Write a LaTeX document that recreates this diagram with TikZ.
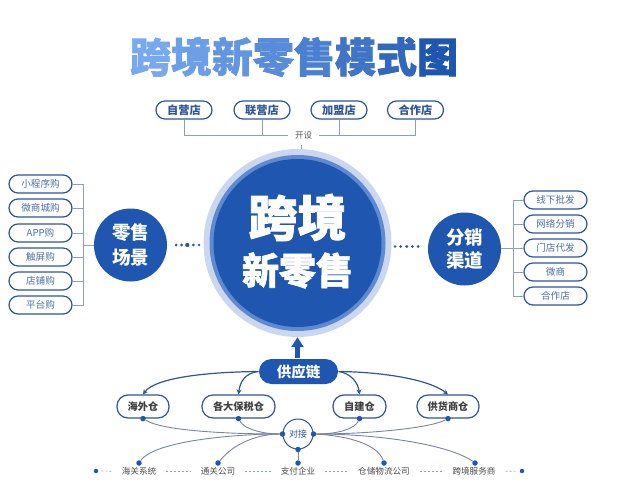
\documentclass[tikz,border=0pt]{standalone}
\usepackage{fontspec}
\setmainfont{Noto Sans CJK SC}
\newfontfamily\heavyfont[BoldFeatures={FakeBold=1.6}]{Noto Sans CJK SC}
\usetikzlibrary{arrows.meta}
\definecolor{mainblue}{HTML}{1F56B0}
\definecolor{ringmid}{HTML}{5F8AD0}
\definecolor{ringpale}{HTML}{CBD7EE}
\definecolor{edgeblue}{HTML}{2F5597}
\definecolor{linkgray}{HTML}{8D9DBD}
\definecolor{titlepale}{HTML}{78A9F0}
\newcommand{\fsz}[1]{\fontsize{#1}{#1}\selectfont}
\tikzset{
    pill/.style={draw=edgeblue, line width=1.2pt, fill=white, rounded corners=9pt, inner sep=0pt, minimum height=18pt},
    sidepill/.style={pill, minimum width=63pt, text=edgeblue!85!white, font=\fsz{9.6}},
    toppill/.style={pill, minimum width=56pt, text=edgeblue, font=\fsz{11.2}\bfseries},
    stockpill/.style={pill, rounded corners=11pt, minimum height=23pt, text=black!75, font=\fsz{10.2}\bfseries},
    bigdisc/.style={circle, fill=mainblue, text=white, inner sep=0pt, minimum size=73pt, align=center, font=\fsz{18.5}\bfseries},
    bracket/.style={draw=linkgray, line width=1pt},
    dotnode/.style={circle, fill=mainblue, inner sep=0pt, minimum size=5.5pt},
    curvelink/.style={draw=linkgray!85!black, line width=.9pt},
    archarrow/.style={draw=edgeblue, line width=1.2pt, -{Stealth[length=5pt,width=5pt]}},
    botlabel/.style={inner sep=0pt, text=black!70, font=\fsz{8.6}},
    botdash/.style={draw=linkgray, dash pattern=on 2pt off 2pt, line width=.7pt, shorten <=10pt, shorten >=10pt},
}
\begin{document}
\begin{tikzpicture}[x=1pt,y=-1pt]
    \useasboundingbox (0,0) rectangle (623,500);

    % Title
    \node (title) at (294,57) {\fsz{41}\heavyfont\bfseries
        \textcolor{titlepale}{跨}\textcolor{titlepale!88!mainblue}{境}\textcolor{titlepale!76!mainblue}{新}\textcolor{titlepale!64!mainblue}{零}\textcolor{titlepale!50!mainblue}{售}\textcolor{titlepale!36!mainblue}{模}\textcolor{titlepale!20!mainblue}{式}\textcolor{mainblue}{图}};

    % Central disc
    \coordinate (ticktop) at (301,145);
    \coordinate (tickend) at (301,150);
    \draw[bracket] (ticktop) -- (tickend);
    \node[circle, fill=ringpale, inner sep=0pt, minimum size=188pt] (center) at (297.5,243) {};
    \node[circle, fill=ringmid, inner sep=0pt, minimum size=176pt] (centerring) at (297.5,243) {};
    \node[circle, fill=mainblue, inner sep=0pt, minimum size=168pt] (centerdisc) at (297.5,243) {};
    \node[text=white, font=\fsz{49}\heavyfont\bfseries] (kj) at (297.5,217.5) {跨境};
    \node[text=white, font=\fsz{37}\heavyfont\bfseries] (xls) at (297.5,270.5) {新零售};

    % Top stores
    \node[toppill] (ziying) at (184,110) {自营店};
    \node[toppill] (lianying) at (262,110) {联营店};
    \node[toppill] (jiameng) at (339,110) {加盟店};
    \node[toppill] (hezuo) at (415.5,110) {合作店};
    \node[fill=white, inner sep=0pt, minimum width=31pt, text=black!65, font=\fsz{8.5}] (kaishe) at (303.5,135) {开设};
    \draw[bracket] (ziying.south) |- (kaishe.west);
    \draw[bracket] (lianying.south) |- (kaishe.west);
    \draw[bracket] (jiameng.south) |- (kaishe.east);
    \draw[bracket] (hezuo.south) |- (kaishe.east);

    % Left group
    \node[bigdisc] (retail) at (130.5,245) {零售\\[6pt]场景};
    \coordinate (leftbus) at (83,245);
    \foreach \name/\ypos/\txt in {xcx/184/小程序购, wsc/208/微商城购, app/233/APP购, cp/257/触屏购, dp/281/店铺购, pt/305/平台购}{
        \node[sidepill] (\name) at (40.5,\ypos) {\txt};
        \draw[bracket] (\name.east) -| (leftbus);
    }
    \draw[bracket] (leftbus) -- (retail.west);

    % Right group
    \node[bigdisc] (channel) at (464.5,249) {分销\\[4pt]渠道};
    \coordinate (rightbus) at (513,248);
    \foreach \name/\ypos/\txt in {xxpf/200/线下批发, wlfx/224/网络分销, mddf/248/门店代发, wsh/272/微商, hzd/296/合作店}{
        \node[sidepill] (\name) at (555.5,\ypos) {\txt};
        \draw[bracket] (\name.west) -| (rightbus);
    }
    \draw[bracket] (rightbus) -- (channel.east |- rightbus);

    % Dots beside the disc
    \foreach \xpos/\rad in {176/1.5, 181.7/1.5, 187.3/2.1, 193.3/1.5, 199/1.3}{
        \fill[edgeblue] (\xpos,245) circle (\rad);
    }
    \foreach \xpos/\rad in {395/1.4, 400.7/1.5, 406.7/1.6, 412.3/1.5, 418/1.5}{
        \fill[edgeblue] (\xpos,246.5) circle (\rad);
    }

    % Supply chain
    \node[pill, draw=none, fill=mainblue, rounded corners=12.5pt, minimum width=79pt, minimum height=25pt, text=white, font=\fsz{14.5}\bfseries] (supply) at (298.5,371.5) {供应链};
    \draw[mainblue, line width=5pt, -{Triangle[length=10pt,width=12pt]}] (center.south |- supply.north) -- (center.south);

    % Warehouses
    \node[stockpill, minimum width=52pt] (haiwai) at (143,406.5) {海外仓};
    \node[stockpill, minimum width=73pt] (baoshui) at (238.5,406.5) {各大保税仓};
    \node[stockpill, minimum width=53pt] (zijian) at (359.5,406.5) {自建仓};
    \node[stockpill, minimum width=62pt] (gonghuo) at (448,406.5) {供货商仓};
    \draw[archarrow] (supply.west) .. controls (205,372) and (155,378) .. (haiwai.north);
    \draw[archarrow] (supply.west) .. controls (245,373) and (240,382) .. (baoshui.north);
    \draw[archarrow] (supply.east) .. controls (350,373) and (358,382) .. (zijian.north);
    \draw[archarrow] (supply.east) .. controls (385,372) and (430,380) .. (gonghuo.north);

    % Docking circle
    \node[circle, draw=edgeblue, line width=1pt, fill=white, inner sep=0pt, minimum size=30pt, text=edgeblue, font=\fsz{9}] (duijie) at (298,434) {对接};
    \node[dotnode] (dockleft) at (duijie.west) {};
    \node[dotnode] (dockright) at (duijie.east) {};
    \node[dotnode] (dockbottom) at (duijie.south) {};
    \node[dotnode] (haiwaidot) at (haiwai.south) {};
    \node[dotnode] (baoshuidot) at (baoshui.south) {};
    \node[dotnode] (zijiandot) at (zijian.south) {};
    \node[dotnode] (gonghuodot) at (gonghuo.south) {};

    % Bottom row
    \node[botlabel] (haiguan) at (139,471.5) {海关系统};
    \node[botlabel] (tongguan) at (218,471.5) {通关公司};
    \node[botlabel] (zhifu) at (298,471.5) {支付企业};
    \node[botlabel] (wuliu) at (384,471.5) {仓储物流公司};
    \node[botlabel] (fuwu) at (474,471.5) {跨境服务商};
    \node[dotnode, minimum size=4.5pt] (rowstart) at (96,471) {};
    \node[dotnode, minimum size=4.5pt] (rowend) at (522,471) {};
    \node[dotnode] (haiguandot) at (139,463) {};
    \node[dotnode] (tongguandot) at (218,463) {};
    \node[dotnode] (zhifudot) at (298,463) {};
    \node[dotnode] (wuliudot) at (384,463) {};
    \node[dotnode] (fuwudot) at (475,463) {};
    \draw[botdash, shorten <=3pt] (rowstart) -- (haiguan);
    \draw[botdash] (haiguan.east) -- (tongguan.west);
    \draw[botdash] (tongguan.east) -- (zhifu.west);
    \draw[botdash] (zhifu.east) -- (wuliu.west);
    \draw[botdash] (wuliu.east) -- (fuwu.west);
    \draw[botdash, shorten >=3pt] (fuwu.east) -- (rowend);

    % Links to the docking circle
    \draw[curvelink] (haiwaidot) .. controls (165,432) and (240,434) .. (dockleft);
    \draw[curvelink] (baoshuidot) .. controls (245,430) and (265,434) .. (dockleft);
    \draw[curvelink] (haiguandot) .. controls (155,440) and (240,434) .. (dockleft);
    \draw[curvelink] (tongguandot) .. controls (235,442) and (260,434) .. (dockleft);
    \draw[curvelink] (zhifudot) -- (dockbottom);
    \draw[curvelink] (zijiandot) .. controls (355,428) and (340,434) .. (dockright);
    \draw[curvelink] (gonghuodot) .. controls (430,428) and (370,434) .. (dockright);
    \draw[curvelink] (wuliudot) .. controls (378,445) and (350,436) .. (dockright);
    \draw[curvelink] (fuwudot) .. controls (450,445) and (380,434) .. (dockright);
\end{tikzpicture}
\end{document}
